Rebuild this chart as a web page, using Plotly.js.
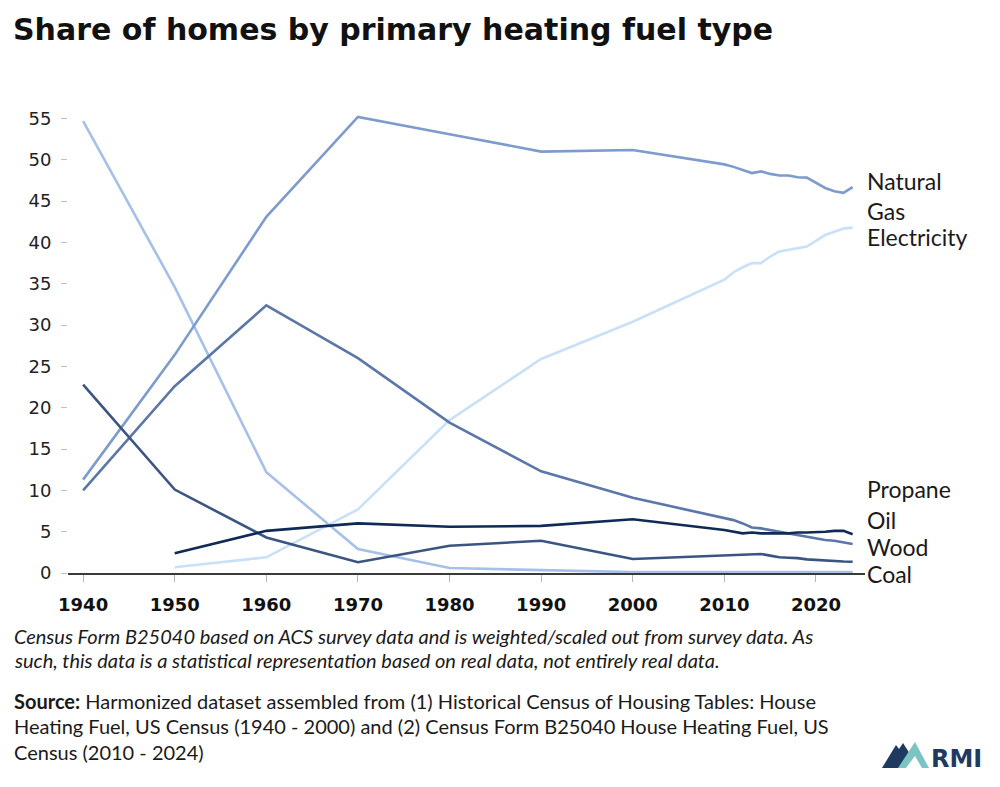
<!DOCTYPE html>
<html>
<head>
<meta charset="utf-8">
<script src="https://cdn.plot.ly/plotly-3.0.1.min.js"></script>
<style>
  html, body { margin: 0; padding: 0; background: #ffffff; }
  #chart { width: 1000px; height: 787px; }
</style>
</head>
<body>
<div id="chart"></div>
<script>
// ---- Data (share of homes, %) ----
const years = [1940, 1950, 1960, 1970, 1980, 1990, 2000, 2010, 2011, 2012, 2013, 2014, 2015, 2016, 2017, 2018, 2019, 2021, 2022, 2023, 2024];
const naturalGas  = [11.3, 26.4, 43.1, 55.2, 53.1, 51.0, 51.2, 49.45, 49.15, 48.8, 48.4, 48.6, 48.3, 48.1, 48.1, 47.9, 47.85, 46.6, 46.2, 46.0, 46.7];
const electricity = [null, 0.7, 1.9, 7.7, 18.5, 25.9, 30.4, 35.5, 36.4, 37.0, 37.5, 37.5, 38.3, 38.9, 39.1, 39.3, 39.5, 40.9, 41.3, 41.7, 41.8];
const coal        = [54.7, 34.6, 12.2, 2.9, 0.6, 0.35, 0.1, 0.1, 0.1, 0.1, 0.1, 0.1, 0.1, 0.1, 0.1, 0.1, 0.1, 0.1, 0.1, 0.1, 0.1];
const oil         = [10.0, 22.6, 32.4, 26.0, 18.2, 12.3, 9.1, 6.7, 6.4, 6.0, 5.5, 5.4, 5.2, 5.0, 4.8, 4.6, 4.4, 4.0, 3.9, 3.7, 3.5];
const wood        = [22.8, 10.1, 4.3, 1.3, 3.3, 3.9, 1.7, 2.1, 2.2, 2.2, 2.3, 2.3, 2.1, 1.9, 1.85, 1.8, 1.65, 1.5, 1.45, 1.4, 1.37];
const propane     = [null, 2.4, 5.1, 6.0, 5.6, 5.7, 6.5, 5.2, 5.0, 4.8, 4.9, 4.8, 4.8, 4.8, 4.8, 4.9, 4.9, 5.0, 5.1, 5.1, 4.7];

const xTicks = [1940, 1950, 1960, 1970, 1980, 1990, 2000, 2010, 2020];
const yTicks = [0, 5, 10, 15, 20, 25, 30, 35, 40, 45, 50, 55];

const seriesNames  = ['Coal', 'Electricity', 'Natural Gas', 'Oil', 'Wood', 'Propane'];
const seriesValues = [coal, electricity, naturalGas, oil, wood, propane];
const seriesColors = ['#a6c0ea', '#c8e1f9', '#7e9bcd', '#5b77a8', '#3a5581', '#0f2a55'];

// ---- Layout geometry (pixels) ----
const W = 1000, H = 787;
const M = {l: 68, r: 135, t: 102, b: 214};
const plotW = W - M.l - M.r, plotH = H - M.t - M.b;
const px = x => (x - M.l) / plotW;
const py = y => (H - M.b - y) / plotH;

const traces = seriesNames.map((n, i) => ({
  type: 'scatter', mode: 'lines', name: n,
  x: years, y: seriesValues[i],
  line: {color: seriesColors[i], width: 2.6},
  hoverinfo: 'skip'
}));

const bodyFont = 'Lato, "Noto Sans", sans-serif';
const labelFont = {family: bodyFont, size: 23, color: '#1a1a1a'};

const endLabels = [
  ['Natural', 181], ['Gas', 211], ['Electricity', 237],
  ['Propane', 489], ['Oil', 520], ['Wood', 547], ['Coal', 574]
];

const annotations = endLabels.map(([t, y]) => ({
  xref: 'paper', yref: 'paper', x: px(865), y: py(y),
  xanchor: 'left', yanchor: 'middle', text: t, showarrow: false,
  font: labelFont
}));

const footFont = {family: bodyFont, size: 20, color: '#1a1a1a'};
const footLines = [
  ['<i>Census Form B25040 based on ACS survey data and is weighted/scaled out from survey data. As</i>', 636],
  ['<i>such, this data is a statistical representation based on real data, not entirely real data.</i>', 660],
  ['<b>Source:</b> Harmonized dataset assembled from (1) Historical Census of Housing Tables: House', 701],
  ['Heating Fuel, US Census (1940 - 2000) and (2) Census Form B25040 House Heating Fuel, US', 726],
  ['Census (2010 - 2024)', 752]
];
footLines.forEach(([t, y]) => annotations.push({
  xref: 'paper', yref: 'paper', x: px(12), y: py(y),
  xanchor: 'left', yanchor: 'middle', text: t, showarrow: false,
  font: footFont, align: 'left'
}));

// Title
annotations.push({
  xref: 'paper', yref: 'paper', x: px(11), y: py(29),
  xanchor: 'left', yanchor: 'middle', showarrow: false,
  text: '<b>Share of homes by primary heating fuel type</b>',
  font: {family: '"DejaVu Sans", sans-serif', size: 30, color: '#111111'}
});

// RMI logo text
annotations.push({
  xref: 'paper', yref: 'paper', x: px(929), y: py(759),
  xanchor: 'left', yanchor: 'middle', showarrow: false,
  text: '<b>RMI</b>',
  font: {family: '"DejaVu Sans", sans-serif', size: 24, color: '#1f3a5f'}
});

const P = (pts) => 'M ' + pts.map(p => px(p[0]).toFixed(4) + ' ' + py(p[1]).toFixed(4)).join(' L ') + ' Z';
const shapes = [
  {type: 'path', xref: 'paper', yref: 'paper', line: {width: 0}, fillcolor: '#1f3a5f',
   path: P([[882, 768], [896, 745], [899, 749], [903, 743], [910, 754], [900, 768]])},
  {type: 'path', xref: 'paper', yref: 'paper', line: {width: 0}, fillcolor: '#7cc4c4',
   path: P([[898, 768], [915, 742], [929, 768], [922, 768], [915, 756], [906, 768]])}
];

const layout = {
  width: W, height: H,
  margin: M,
  paper_bgcolor: '#ffffff', plot_bgcolor: '#ffffff',
  showlegend: false,
  hovermode: false,
  xaxis: {
    range: [1938.35, 2025.35],
    tickmode: 'array', tickvals: xTicks, ticktext: xTicks.map(String),
    ticks: 'outside', ticklen: 7, tickcolor: '#b5b5b5', tickwidth: 1,
    showline: true, linecolor: '#3a3a3a', linewidth: 1.5,
    showgrid: false, zeroline: false,
    tickfont: {family: '"DejaVu Sans", sans-serif', size: 18, color: '#111111', weight: 'bold'},
    ticklabelstandoff: 8
  },
  yaxis: {
    range: [0, 57],
    tickmode: 'array', tickvals: yTicks, ticktext: yTicks.map(String),
    ticks: 'outside', ticklen: 6, tickcolor: '#c0c0c0', tickwidth: 1,
    showline: false, showgrid: false, zeroline: false,
    tickfont: {family: '"DejaVu Sans", sans-serif', size: 18, color: '#222222'},
    ticklabelstandoff: 6
  },
  annotations: annotations,
  shapes: shapes
};

Plotly.newPlot('chart', traces, layout, {displayModeBar: false, staticPlot: true});
</script>
</body>
</html>
